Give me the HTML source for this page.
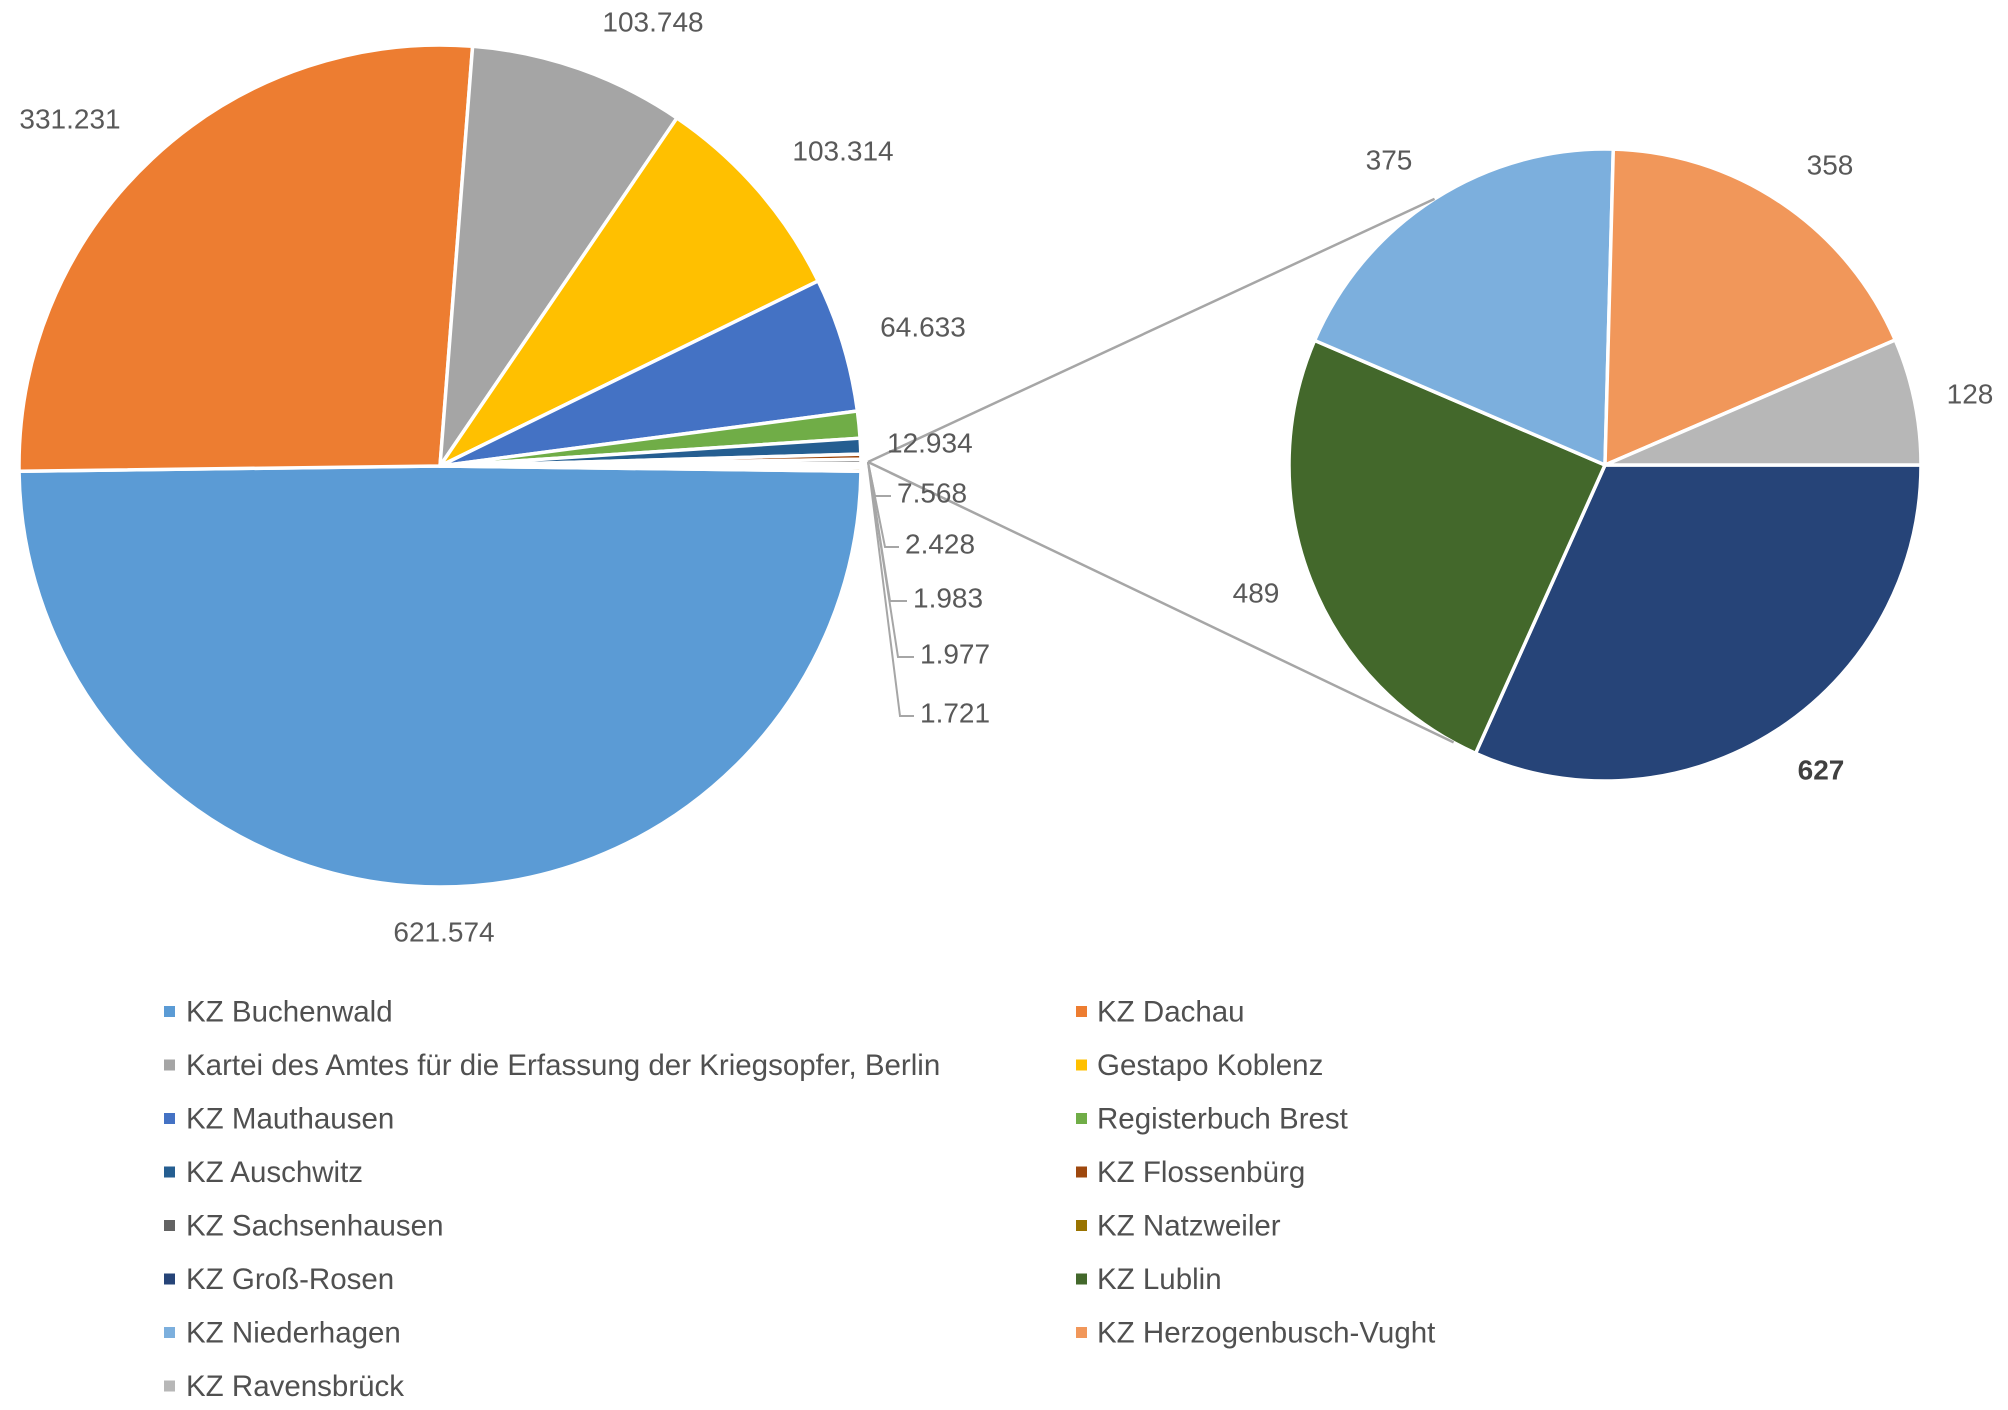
<!DOCTYPE html>
<html><head><meta charset="utf-8"><style>
html,body{margin:0;padding:0;background:#fff;}
svg{display:block;}
text{font-family:"Liberation Sans",sans-serif;}
</style></head><body>
<svg id="chart" width="2008" height="1410" viewBox="0 0 2008 1410" xmlns="http://www.w3.org/2000/svg"></svg>
<script>
const mainNames = ["KZ Buchenwald","KZ Dachau","Kartei des Amtes für die Erfassung der Kriegsopfer, Berlin","Gestapo Koblenz","KZ Mauthausen","Registerbuch Brest","KZ Auschwitz","KZ Flossenbürg","KZ Sachsenhausen","Andere","KZ Natzweiler"];
const mainValues = [621574,331231,103748,103314,64633,12934,7568,2428,1983,1977,1721];
const mainLabels = ["621.574","331.231","103.748","103.314","64.633","12.934","7.568","2.428","1.983","1.977","1.721"];
const mainColors = ["#5b9bd5","#ed7d31","#a5a5a5","#ffc000","#4472c4","#70ad47","#255e91","#9e480e","#636363","#ffffff","#997300"];
const subNames = ["KZ Groß-Rosen","KZ Lublin","KZ Niederhagen","KZ Herzogenbusch-Vught","KZ Ravensbrück"];
const subValues = [627,489,375,358,128];
const subLabels = ["627","489","375","358","128"];
const subColors = ["#264478","#43682b","#7cafdd","#f1975a","#b7b7b7"];
const legendNames = ["KZ Buchenwald","KZ Dachau","Kartei des Amtes für die Erfassung der Kriegsopfer, Berlin","Gestapo Koblenz","KZ Mauthausen","Registerbuch Brest","KZ Auschwitz","KZ Flossenbürg","KZ Sachsenhausen","KZ Natzweiler","KZ Groß-Rosen","KZ Lublin","KZ Niederhagen","KZ Herzogenbusch-Vught","KZ Ravensbrück"];
const legendColors = ["#5b9bd5","#ed7d31","#a5a5a5","#ffc000","#4472c4","#70ad47","#255e91","#9e480e","#636363","#997300","#264478","#43682b","#7cafdd","#f1975a","#b7b7b7"];

const NS="http://www.w3.org/2000/svg";
const svg=document.getElementById('chart');
function mk(tag,attrs){const e=document.createElementNS(NS,tag);for(const k in attrs)e.setAttribute(k,attrs[k]);return e;}
function pt(cx,cy,r,a){return [cx+r*Math.cos(a),cy+r*Math.sin(a)];}
function arcPath(cx,cy,r,a0,a1){
  const p0=pt(cx,cy,r,a0),p1=pt(cx,cy,r,a1);const large=(a1-a0)>Math.PI?1:0;
  return `M${cx},${cy} L${p0[0]},${p0[1]} A${r},${r} 0 ${large} 1 ${p1[0]},${p1[1]} Z`;
}
function drawPie(cx,cy,r,vals,cols,names,prefix,start){
  const tot=vals.reduce((a,b)=>a+b,0);let a=start;const angles=[];
  vals.forEach((v,i)=>{
    const a1=a+v/tot*2*Math.PI;
    const p=mk('path',{d:arcPath(cx,cy,r,a,a1),fill:cols[i],stroke:'#fff','stroke-width':3.5,'stroke-linejoin':'round'});
    
    
    svg.appendChild(p);angles.push([a,a1]);a=a1;
  });
  return angles;
}
const LC=[440,466,421], RC=[1605,465,316];
const mTot=mainValues.reduce((a,b)=>a+b,0);
const mStart=(Math.PI-mainValues[0]/mTot*2*Math.PI)/2;
const mainAng=drawPie(LC[0],LC[1],LC[2],mainValues,mainColors,mainNames,'main',mStart);
const subAng=drawPie(RC[0],RC[1],RC[2],subValues,subColors,subNames,'sub',0);

// connector lines
const c1=pt(RC[0],RC[1],RC[2],subAng[2][0]+(subAng[2][1]-subAng[2][0])*0.5);
const c2=pt(RC[0],RC[1],RC[2],subAng[1][0]+(subAng[1][1]-subAng[1][0])*0.05);
[[c1,'connector-line-top'],[c2,'connector-line-bottom']].forEach(([c,n])=>{
  const l=mk('line',{x1:868,y1:462,x2:c[0],y2:c[1],stroke:'#a6a6a6','stroke-width':2.5});
  
  
  svg.appendChild(l);
});

// labels
function label(x,y,t,name,bold,anchor){
  const e=mk('text',{x:x,y:y,'font-size':28,fill:bold?'#404040':'#595959','text-anchor':anchor||'middle','dominant-baseline':'central','font-weight':bold?'bold':'normal'});
  e.textContent=t;
  
  
  svg.appendChild(e);
}
const bigLabelPos=[[444,932],[70,119],[653,22],[843,151],[923,327]];
for(let i=0;i<5;i++) label(bigLabelPos[i][0],bigLabelPos[i][1],mainLabels[i],'data-label-'+i);
label(887,443,mainLabels[5],'data-label-5',false,'start');
const smallPos=[[875,493,897],[885,544,905],[890,598,913],[898,654,920],[900,713,920]];
for(let k=0;k<5;k++){
  const [cx,y,tx]=smallPos[k];
  const pl=mk('polyline',{points:`868,462 ${cx},${y+3} ${tx-6},${y+3}`,fill:'none',stroke:'#a6a6a6','stroke-width':2});
  
  
  svg.appendChild(pl);
  label(tx,y,mainLabels[k+6],'data-label-'+(k+6),false,'start');
}
const subPos=[[1821,770,true],[1256,593,false],[1389,160,false],[1830,165,false],[1970,394,false]];
for(let i=0;i<5;i++) label(subPos[i][0],subPos[i][1],subLabels[i],'sub-data-label-'+i,subPos[i][2]);

// legend
for(let i=0;i<legendNames.length;i++){
  const col=i%2,row=Math.floor(i/2);
  const y=1012+row*53.5;
  const mx=col?1076:164, tx=col?1097:186;
  const r=mk('rect',{x:mx,y:y-6,width:11,height:11,fill:legendColors[i]});
  
  
  svg.appendChild(r);
  const t=mk('text',{x:tx,y:y,'font-size':29.5,fill:'#505050','dominant-baseline':'central'});
  t.textContent=legendNames[i];
  
  
  svg.appendChild(t);
}
</script>
</body></html>
